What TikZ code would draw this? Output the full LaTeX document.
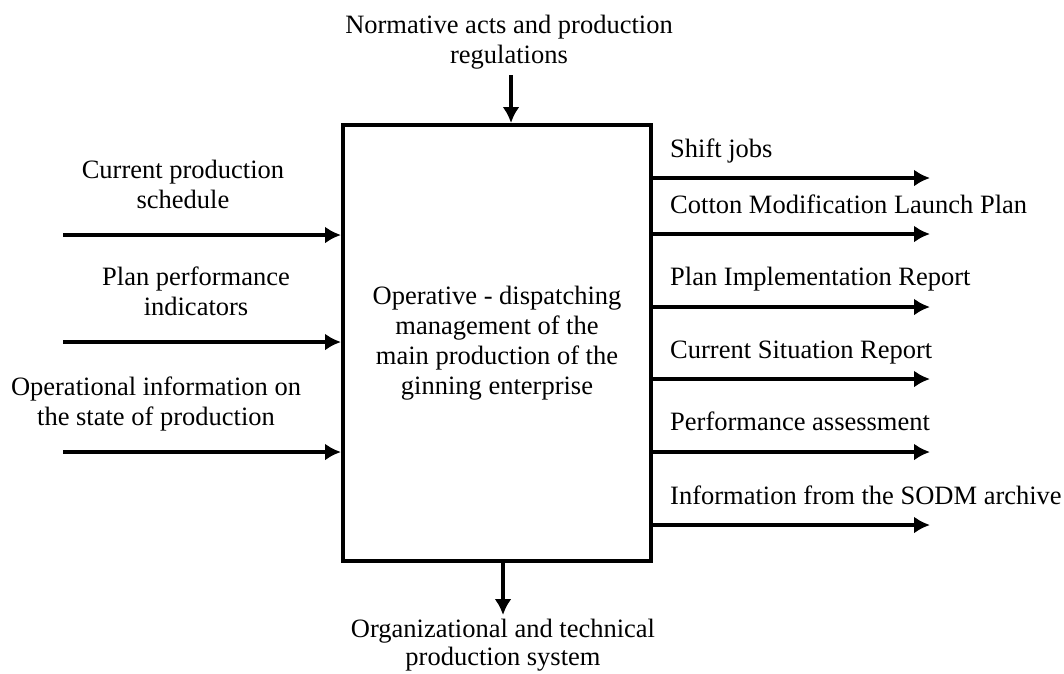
\documentclass[tikz,border=0pt]{standalone}
\usepackage{fontspec}
\setmainfont{Liberation Serif}
\usetikzlibrary{arrows.meta}
\begin{document}
\begin{tikzpicture}[x=1pt,y=-1pt,
  every node/.style={font=\fontsize{26.5}{30}\selectfont, inner sep=0pt},
  lbl/.style={align=center, anchor=base},
  rlbl/.style={anchor=base west},
  arr/.style={line width=3.5pt, -{Latex[length=16pt,width=17pt]}},
  boxstyle/.style={draw, line width=4pt, minimum width=308pt, minimum height=436pt, align=center}]
\useasboundingbox (0,0) rectangle (1064,673);
\node[boxstyle] (box) at (497,343) {Operative - dispatching\\management of the\\main production of the\\ginning enterprise};
% top (base anchor = last line)
\node[lbl] (ctl) at (509,63) {Normative acts and production\\regulations};
\coordinate (ctlin) at (511,75);
\draw[arr] (ctlin) -- (ctlin |- box.north);
% bottom
\node[lbl] (mech) at (503,665) {Organizational and technical\\[-2pt]production system};
\coordinate (mechout) at (503,615);
\draw[arr] (mechout |- box.south) -- (mechout);
% left inputs
\node[lbl] (in1) at (183,208) {Current production\\schedule};
\node[lbl] (in2) at (196,315) {Plan performance\\indicators};
\node[lbl] (in3) at (156,425) {Operational information on\\the state of production};
\coordinate (i1) at (63,235);
\coordinate (i2) at (63,342);
\coordinate (i3) at (63,452);
\draw[arr] (i1) -- (i1 -| box.west);
\draw[arr] (i2) -- (i2 -| box.west);
\draw[arr] (i3) -- (i3 -| box.west);
% right outputs
\node[rlbl] (o1t) at (670,157) {Shift jobs};
\node[rlbl] (o2t) at (670,213) {Cotton Modification Launch Plan};
\node[rlbl] (o3t) at (670,285) {Plan Implementation Report};
\node[rlbl] (o4t) at (670,358) {Current Situation Report};
\node[rlbl] (o5t) at (670,430) {Performance assessment};
\node[rlbl] (o6t) at (670,504) {Information from the SODM archive};
\coordinate (o1) at (930,178);
\coordinate (o2) at (930,234);
\coordinate (o3) at (930,307);
\coordinate (o4) at (930,379);
\coordinate (o5) at (930,452);
\coordinate (o6) at (930,525);
\draw[arr] (o1 -| box.east) -- (o1);
\draw[arr] (o2 -| box.east) -- (o2);
\draw[arr] (o3 -| box.east) -- (o3);
\draw[arr] (o4 -| box.east) -- (o4);
\draw[arr] (o5 -| box.east) -- (o5);
\draw[arr] (o6 -| box.east) -- (o6);
\end{tikzpicture}
\end{document}
